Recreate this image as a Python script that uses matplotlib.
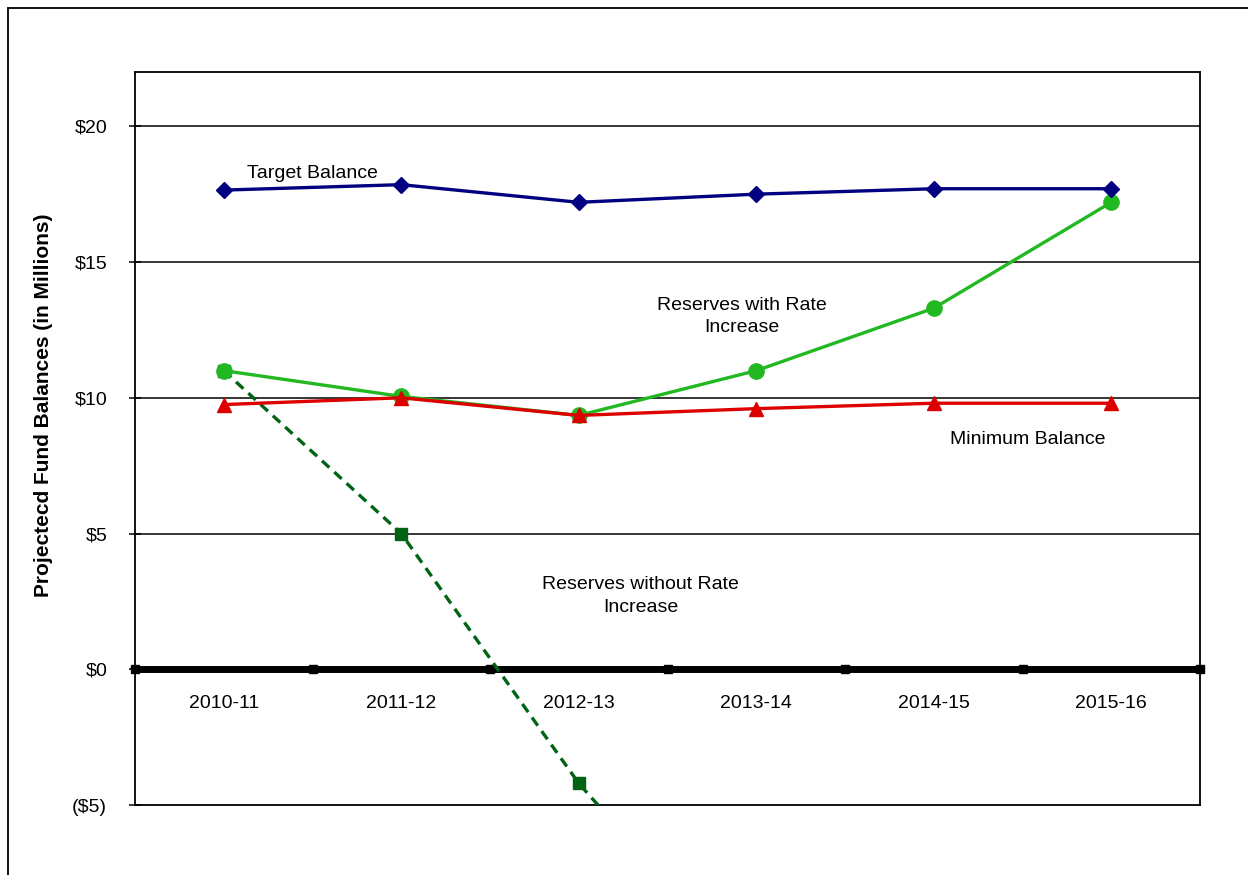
import matplotlib
matplotlib.use("Agg")
import matplotlib.pyplot as plt
from matplotlib.patches import Rectangle

plt.rcParams['font.family'] = ['Liberation Sans', 'DejaVu Sans']

years = ['2010-11', '2011-12', '2012-13', '2013-14', '2014-15', '2015-16']
target_balance = [17.65, 17.85, 17.2, 17.5, 17.7, 17.7]
minimum_balance = [9.75, 10.0, 9.35, 9.6, 9.8, 9.8]
reserves_with_increase = [11.0, 10.05, 9.35, 11.0, 13.3, 17.2]
reserves_without_increase = [11.0, 5.0, -4.2, -11.6]
y_ticks = [-5, 0, 5, 10, 15, 20]
y_tick_labels = ['($5)', '$0', '$5', '$10', '$15', '$20']

fig = plt.figure(figsize=(12.48, 8.75), dpi=100)
ax = fig.add_axes([135 / 1248, 1 - 805 / 875, 1065 / 1248, 733 / 875])

# outer chart frame (open on right/bottom, as cropped in the original)
fig.patches.append(Rectangle((8 / 1248, -0.2), 2.0, 1.2 - 8 / 875, transform=fig.transFigure,
                             fill=False, edgecolor='black', linewidth=1.3, zorder=0))

x = list(range(len(years)))

for yv in y_ticks[2:]:
    ax.axhline(yv, color='black', linewidth=1.1, zorder=1)

# zero axis with category-boundary markers
bounds = [i - 0.5 for i in range(len(years) + 1)]
ax.plot(bounds, [0] * len(bounds), color='black', linewidth=5, marker='s',
        markersize=6, zorder=2, clip_on=False)

ax.plot(x[:len(reserves_without_increase)], reserves_without_increase, color='#006414',
        linewidth=2.4, linestyle=(0, (3, 2)), marker='s', markersize=8, zorder=3)
ax.plot(x, reserves_with_increase, color='#22b822', linewidth=2.4, marker='o',
        markersize=11, zorder=4)
ax.plot(x, minimum_balance, color='#dd0000', linewidth=2.4, marker='^',
        markersize=10, zorder=5)
ax.plot(x, target_balance, color='#000080', linewidth=2.4, marker='D',
        markersize=8, zorder=6)

fs = 14
ax.text(0.5, 18.25, 'Target Balance', ha='center', va='center', fontsize=fs)
ax.text(2.92, 13.0, 'Reserves with Rate\nIncrease', ha='center', va='center', fontsize=fs,
        linespacing=1.4)
ax.text(4.53, 8.48, 'Minimum Balance', ha='center', va='center', fontsize=fs)
ax.text(2.35, 2.7, 'Reserves without Rate\nIncrease', ha='center', va='center', fontsize=fs,
        linespacing=1.4)

for i, yr in enumerate(years):
    ax.text(i, -1.25, yr, ha='center', va='center', fontsize=fs)

ax.set_xlim(-0.5, 5.5)
ax.set_ylim(-5, 22)
ax.set_xticks([])
ax.set_yticks(y_ticks)
ax.set_yticklabels(y_tick_labels, fontsize=fs)
ax.tick_params(axis='y', length=8, width=1.1, pad=16, direction='inout')
for s in ax.spines.values():
    s.set_linewidth(1.3)

ax.set_ylabel('Projectecd Fund Balances (in Millions)', fontsize=15, fontweight='bold')
ax.yaxis.set_label_coords(-0.077, 0.546)

fig.savefig('out.png', dpi=100)
